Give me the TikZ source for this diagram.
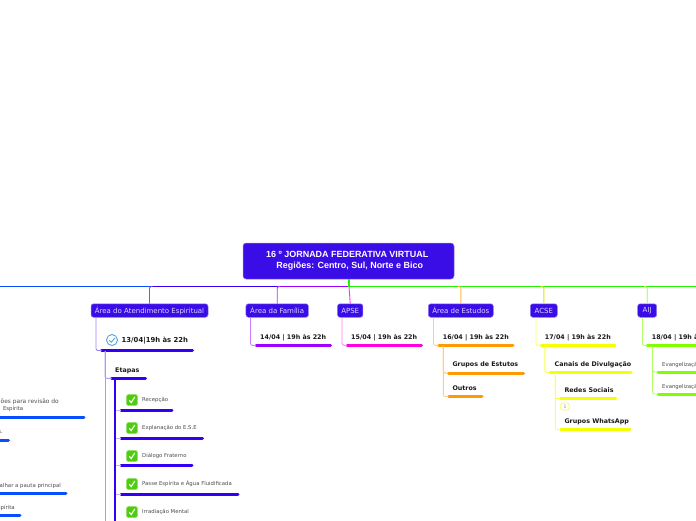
\documentclass[tikz,border=0pt]{standalone}
\usepackage{fontspec}
\setmainfont{DejaVu Sans}
\newfontfamily\titlefont{Liberation Sans}
\definecolor{boxblue}{HTML}{3A0CE6}
\definecolor{boxedge}{HTML}{8F7BF5}
\definecolor{boxtext}{HTML}{DCD6FF}
\definecolor{cblue}{HTML}{0A4FFF}
\definecolor{cindigo}{HTML}{3300F5}
\definecolor{cpurple}{HTML}{A000FF}
\definecolor{cmag}{HTML}{FF00E0}
\definecolor{corange}{HTML}{FF9A00}
\definecolor{cyel}{HTML}{F4FF00}
\definecolor{clime}{HTML}{80FF00}
\definecolor{cgreen}{HTML}{22F000}
\definecolor{okgreen}{HTML}{4FCC10}
\tikzset{
  x=1pt,y=-1pt,
  titlebox/.style={draw=boxedge,line width=.5pt,fill=boxblue,rounded corners=3pt,minimum width=211pt,minimum height=36pt,inner sep=0pt,align=center,text=white,font=\titlefont\fontsize{8.95}{11}\selectfont\bfseries},
  areabox/.style={draw=boxedge,line width=.5pt,fill=boxblue,rounded corners=2.5pt,minimum height=13.5pt,inner sep=0pt,text=boxtext,font=\fontsize{7}{8}\selectfont},
  headtext/.style={anchor=west,inner sep=0pt,text=black!90,font=\fontsize{6.35}{8}\selectfont\bfseries},
  smalltext/.style={anchor=west,inner sep=0pt,text=black!70,font=\fontsize{5.35}{7}\selectfont},
  leftsmall/.style={anchor=east,inner sep=0pt,text=black!70,font=\fontsize{5.4}{7}\selectfont},
  itembar/.style={line width=3pt,line cap=round},
  link/.style={line width=.9pt,rounded corners=2pt},
  trunk/.style={line width=1pt},
  okbox/.style={draw=okgreen!60!white,line width=.6pt,fill=okgreen,rounded corners=1.5pt,minimum size=11pt,inner sep=0pt},
  tick/.style={draw=white,line width=1.1pt},
}
\newcommand{\okicon}[3]{\node[okbox] (#1) at (#2,#3) {};
  \draw[tick] (#1.center)+(-2.6,.3) -- +(-.8,2.6) -- +(2.8,-3);}
\newcommand{\barline}[5]{\coordinate (#1l) at (#3,#2); \coordinate (#1r) at (#4,#2);
  \draw[itembar,#5] (#1l) -- (#1r);}
\begin{document}
\begin{tikzpicture}
\useasboundingbox (0,0) rectangle (696,520);
\clip (0,0) rectangle (696,520);
% title and main horizontal line
\node[titlebox] (title) at (348.5,261) {\hspace*{-2.5pt}16 º JORNADA FEDERATIVA VIRTUAL\\[-.5pt]\hspace*{-2.5pt}\ \ Regiões: Centro, Sul, Norte e Bico};
\coordinate (hub) at (349,286.5);
\coordinate (hl) at (0,286.5);
\coordinate (hr) at (696,286.5);
% area boxes
\node[areabox,minimum width=117pt] (a1) at (149.5,310.5) {Área do Atendimento Espiritual};
\node[areabox,minimum width=62.5pt] (a2) at (277.2,310.5) {Área da Família};
\node[areabox,minimum width=25.5pt] (a3) at (350.2,310.5) {APSE};
\node[areabox,minimum width=65pt] (a4) at (460.8,310.5) {Área de Estudos};
\node[areabox,minimum width=27pt] (a5) at (543.8,310.5) {ACSE};
\node[areabox,minimum width=19pt] (a6) at (647.2,310.5) {AIJ};
% main line segments and drops
\coordinate (h1) at (a1.north|-hub);
\coordinate (h2) at (a2.north|-hub);
\draw[trunk,cblue] (hl) -- (h1);
\draw[trunk,cindigo] (h1) -- (h2);
\draw[trunk,cpurple] (h2) -- (hub);
\draw[trunk,cgreen] (hub) -- (hr);
\draw[line width=2pt,cgreen] (title.south-|hub) -- (hub);
\draw[link,boxblue!70!white] (a1.north) -- (h1) -- ++(3,0);
\draw[link,cpurple!80!white] (a2.north) -- (h2) -- ++(3,0);
\draw[link,cmag!80!white] (a3.north) -- (hub);
\draw[link,corange!70!white] (a4.north) -- (a4.north|-hub) -- ++(-3,0);
\draw[link,cyel!90!black] (a5.north) -- (a5.north|-hub) -- ++(-3,0);
\draw[link,clime!80!white] (a6.north) -- (a6.north|-hub) -- ++(-3,0);
% Area do Atendimento
\node[draw=cyan!70!blue!70,line width=.9pt,circle,fill=white,minimum size=11pt,inner sep=0pt] (ic) at (112,340) {};
\draw[cyan!70!blue!70,line width=.9pt] (ic.center)+(-2.8,.2) -- +(-.7,2.2) -- +(3,-2.2);
\node[headtext,font=\fontsize{6.85}{8}\selectfont\bfseries] (t1) at (121.5,340.5) {13/04|19h às 22h};
\barline{b1}{350.5}{101.5}{192.5}{cindigo}
\draw[link,cindigo!50!white] (96,317.5) |- (b1l);
\node[headtext] (t2) at (115,370.5) {Etapas};
\barline{b2}{378.3}{111.5}{145.5}{cindigo}
\coordinate (v1) at (105,351);
\coordinate (v1e) at (105,525);
\draw[link,cindigo!40!white] (v1) -- (v1e);
\draw[link,cindigo!40!white] (v1) |- (b2l);
\coordinate (v2) at (115,378.5);
\coordinate (v2e) at (115,525);
\draw[line width=1.1pt,cindigo] (v2) -- (v2e);
\okicon{k1}{132}{400}
\okicon{k2}{132}{428}
\okicon{k3}{132}{456}
\okicon{k4}{132}{484}
\okicon{k5}{132}{512}
\node[smalltext] (s1) at (142,400) {Recepção};
\node[smalltext] (s2) at (142,428) {Explanação do E.S.E};
\node[smalltext] (s3) at (142,456) {Diálogo Fraterno};
\node[smalltext] (s4) at (142,484) {Passe Espírita e Água Fluidificada};
\node[smalltext] (s5) at (142,512) {Irradiação Mental};
\barline{c1}{410}{121}{172}{cindigo}
\barline{c2}{438}{121}{202.5}{cindigo}
\barline{c3}{465.8}{121}{192}{cindigo}
\barline{c4}{494}{121}{238}{cindigo}
\foreach \n/\yy in {c1/410,c2/438,c3/465.8,c4/494}{\draw[line width=.9pt,cindigo!30!white] (115.5,\yy) -- (\n l);}
% left cut-off items
\node[leftsmall,font=\fontsize{5.9}{7}\selectfont] (l1) at (59,402) {ões para revisão do};
\node[leftsmall] (l2) at (23.5,409) {Espírita};
\node[leftsmall] (l3) at (3,432) {s.};
\node[leftsmall] (l4) at (61,486) {alhar a pauta principal};
\node[leftsmall] (l5) at (15,508) {spírita};
\barline{d1}{417}{-5}{84}{cblue}
\barline{d2}{440}{-5}{8.5}{cblue}
\barline{d3}{493}{-5}{66}{cblue}
\barline{d4}{515}{-5}{20}{cblue}
% Area da Familia
\node[headtext] (t3) at (260,337.5) {14/04 | 19h às 22h};
\barline{e1}{345.3}{256}{330.5}{cpurple}
\draw[link,cpurple!50!white] (a2.south-|250.5,0) |- (e1l);
% APSE
\node[headtext] (t4) at (351,337.5) {15/04 | 19h às 22h};
\barline{e2}{345.3}{347}{421.5}{cmag}
\draw[link,cmag!50!white] (a3.south-|342,0) |- (e2l);
% Estudos
\node[headtext] (t5) at (442.7,337.5) {16/04 | 19h às 22h};
\barline{e3}{345.3}{438.5}{513}{corange}
\draw[link,corange!50!white] (a4.south-|433.5,0) |- (e3l);
\node[headtext] (t6) at (452.3,364.5) {Grupos de Estutos};
\node[headtext] (t7) at (452.3,388.5) {Outros};
\barline{f1}{373}{448.5}{523.5}{corange}
\barline{f2}{396.5}{448.5}{482}{corange}
\coordinate (v3) at (443.3,346);
\draw[link,corange!70!white] (v3) |- (f1l);
\draw[link,corange!50!white] (v3) |- (f2l);
% ACSE
\node[headtext] (t8) at (544.7,337.5) {17/04 | 19h às 22h};
\barline{e4}{345.3}{541}{615}{cyel}
\draw[link,cyel!60!white] (a5.south-|536,0) |- (e4l);
\node[headtext] (t9) at (554.5,364.5) {Canais de Divulgação};
\barline{g1}{372.5}{550}{631}{cyel}
\coordinate (v4) at (544.8,346);
\draw[link,cyel!70!white] (v4) |- (g1l);
\node[headtext] (t10) at (564.3,390.5) {Redes Sociais};
\node[headtext] (t11) at (564.3,421.5) {Grupos WhatsApp};
\barline{g2}{398.5}{560.5}{615.5}{cyel}
\barline{g3}{429.5}{560.5}{630}{cyel}
\coordinate (v5) at (555.3,373);
\draw[link,cyel!80!white] (v5) |- (g2l);
\draw[link,cyel!60!white] (v5) |- (g3l);
\node[draw=cyel!70!white,line width=.8pt,rounded corners=2pt,minimum width=8.5pt,minimum height=7pt,inner sep=0pt,text=black!45,font=\fontsize{4.5}{5}\selectfont,fill=white] (n1) at (565,406.5) {1};
% AIJ
\node[headtext] (t12) at (651.7,337.5) {18/04 | 19h às 22h};
\barline{e5}{345.5}{647}{705}{clime}
\draw[link,clime!60!white] (a6.south-|642.5,0) |- (e5l);
\node[smalltext] (u1) at (662,365) {Evangelização};
\node[smalltext] (u2) at (662,387) {Evangelização};
\barline{h1b}{372}{658}{705}{clime}
\barline{h2b}{394}{658}{705}{clime}
\coordinate (v6) at (652.5,346);
\draw[link,clime!80!white] (v6) |- (h1bl);
\draw[link,clime!60!white] (v6) |- (h2bl);
\end{tikzpicture}
\end{document}
